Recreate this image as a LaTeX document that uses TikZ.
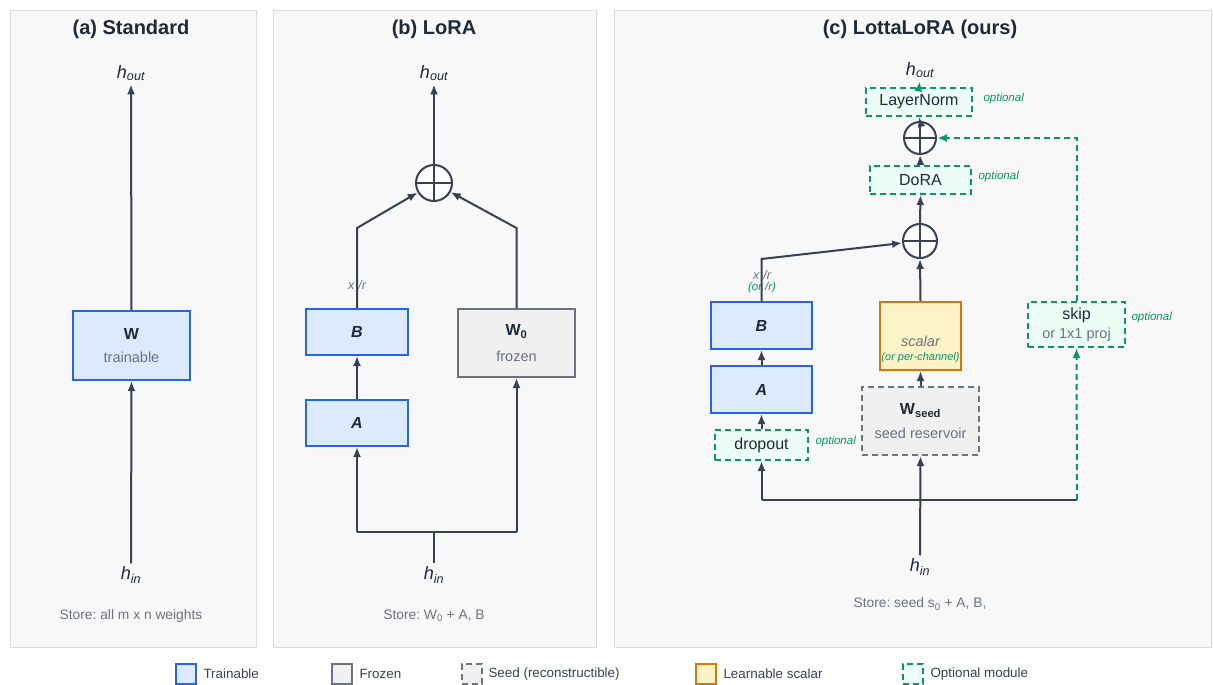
\documentclass[tikz,border=0pt]{standalone}
\usepackage{fontspec}
\setmainfont{Liberation Sans}
\frenchspacing
\usetikzlibrary{arrows.meta,positioning}

\definecolor{ink}{HTML}{374151}
\definecolor{txt}{HTML}{1F2937}
\definecolor{subgray}{HTML}{6B7280}
\definecolor{panelbg}{HTML}{F8F8F8}
\definecolor{panelline}{HTML}{DCDCDC}
\definecolor{trainline}{HTML}{2563EB}
\definecolor{trainfill}{HTML}{DBEAFE}
\definecolor{frozenline}{HTML}{6B7280}
\definecolor{frozenfill}{HTML}{F0F0F0}
\definecolor{optline}{HTML}{059669}
\definecolor{optfill}{HTML}{ECFDF5}
\definecolor{scalarline}{HTML}{D97706}
\definecolor{scalarfill}{HTML}{FEF3C7}

\newcommand{\hvar}[1]{h\textsubscript{#1}}
\newcommand{\subtxt}{\color{subgray}\fontsize{14.5}{17}\selectfont\mdseries\upshape}

\tikzset{
	panel/.style={draw=panelline, fill=panelbg, line width=0.8pt},
	title/.style={font=\fontsize{20}{24}\selectfont\bfseries, text=txt},
	box/.style={line width=2pt, inner sep=0pt, align=center, text=txt, font=\fontsize{16}{20}\selectfont},
	trainbox/.style={box, draw=trainline, fill=trainfill},
	frozenbox/.style={box, draw=frozenline, fill=frozenfill},
	seedbox/.style={frozenbox, dash pattern=on 6pt off 4pt},
	scalarbox/.style={box, draw=scalarline, fill=scalarfill},
	optbox/.style={box, draw=optline, fill=optfill, dash pattern=on 6pt off 4pt},
	plusnode/.style={circle, draw=ink, line width=2pt, fill=white, inner sep=0pt, minimum size=#1,
		path picture={\draw[ink, line width=2pt]
			(path picture bounding box.north) -- (path picture bounding box.south)
			(path picture bounding box.west) -- (path picture bounding box.east);}},
	flow/.style={draw=ink, line width=2pt},
	arr/.style={flow, -{Latex[length=10pt,width=8pt]}},
	optarr/.style={draw=optline, line width=2pt, dash pattern=on 6pt off 4pt, -{Latex[length=10pt,width=8pt]}},
	state/.style={font=\fontsize{18}{21}\selectfont\itshape, text=txt},
	store/.style={font=\fontsize{13.8}{16}\selectfont, text=subgray},
	scalelabel/.style={font=\fontsize{12.5}{14}\selectfont\itshape, text=subgray},
	optlabel/.style={font=\fontsize{11.5}{14}\selectfont\itshape, text=optline, anchor=west},
	legtext/.style={font=\fontsize{13.4}{16}\selectfont, text=ink, anchor=west},
	legkey/.style={minimum size=20pt, line width=2pt, inner sep=0pt},
}

\begin{document}
\begin{tikzpicture}[x=1pt, y=-1pt]
	\useasboundingbox (0,0) rectangle (1213,685);

	% panels
	\draw[panel] (10,10) rectangle (256,647);
	\draw[panel] (273,10) rectangle (596,647);
	\draw[panel] (614,10) rectangle (1211,647);

	% (a) standard layer
	\node[title] (titleA) at (131,29) {(a) Standard};
	\node[state] (houtA) at (131,73) {\hvar{out}};
	\node[state] (hinA) at (131,575) {\hvar{in}};
	\node[trainbox, minimum width=117, minimum height=69] (W) at (131.5,345.5)
		{\bfseries W\\[3pt]{\subtxt trainable}};
	\node[store] (storeA) at (131,616) {Store: all m x n weights};
	\draw[arr] (hinA.north) -- (W.south);
	\draw[arr] (W.north) -- (houtA.south);

	% (b) LoRA
	\node[title] (titleB) at (434,29) {(b) LoRA};
	\node[state] (houtB) at (434,73) {\hvar{out}};
	\node[state] (hinB) at (434,575) {\hvar{in}};
	\node[plusnode=36] (sumB) at (434,183) {};
	\node[trainbox, minimum width=102, minimum height=46, font=\fontsize{16}{20}\selectfont\bfseries\itshape] (B) at (357,332) {B};
	\node[trainbox, minimum width=102, minimum height=46, font=\fontsize{16}{20}\selectfont\bfseries\itshape] (A) at (357,423) {A};
	\node[frozenbox, minimum width=117, minimum height=68] (W0) at (516.5,343)
		{\bfseries W\textsubscript{0}\\[6pt]{\subtxt frozen}};
	\node[scalelabel] (scB) at (357,285) {x\hspace{4pt}/r};
	\node[store] (storeB) at (434,616) {Store: W\textsubscript{0} + A, B};
	\coordinate (busB) at (434,532);
	\draw[flow] (hinB.north) -- (busB);
	\draw[flow] (357,532) -- (516.5,532);
	\draw[arr] (357,532) -- (A.south);
	\draw[arr] (516.5,532) -- (W0.south);
	\draw[arr] (A.north) -- (B.south);
	\draw[arr] (B.north) -- (357,228) -- (sumB);
	\draw[arr] (W0.north) -- (516.5,228) -- (sumB);
	\draw[arr] (sumB.north) -- (houtB.south);

	% (c) LottaLoRA
	\node[title] (titleC) at (920,29) {(c) LottaLoRA (ours)};
	\node[state] (houtC) at (920,70) {\hvar{out}};
	\node[state] (hinC) at (920,567) {\hvar{in}};
	\node[optbox, minimum width=106, minimum height=28] (LN) at (919,102) {LayerNorm};
	\node[optlabel] (optLN) at (980,99) {optional};
	\node[plusnode=32] (sum2) at (920,138) {};
	\node[optbox, minimum width=101, minimum height=28] (DoRA) at (920.5,180) {DoRA};
	\node[optlabel] (optDoRA) at (975,177) {optional};
	\node[plusnode=34] (sum1) at (920,241) {};
	\node[trainbox, minimum width=101, minimum height=47, font=\fontsize{16}{20}\selectfont\bfseries\itshape] (Bc) at (761.5,325.5) {B};
	\node[trainbox, minimum width=101, minimum height=47, font=\fontsize{16}{20}\selectfont\bfseries\itshape] (Ac) at (761.5,389.5) {A};
	\node[optbox, minimum width=93, minimum height=30] (drop) at (761.5,445) {dropout};
	\node[optlabel] (optDrop) at (812,442) {optional};
	\node[scalarbox, minimum width=81, minimum height=68] (scalar) at (920.5,336) {};
	\node[align=center, inner sep=0pt, font=\fontsize{11}{14}\selectfont] (scalartxt) at (920.5,349)
		{{\subtxt\itshape scalar}\\[0pt]{\color{optline}\fontsize{11}{14}\selectfont\itshape (or per-channel)}};
	\node[seedbox, minimum width=117, minimum height=68] (Wseed) at (920.5,421)
		{\bfseries W\textsubscript{seed}\\[4pt]{\subtxt seed reservoir}};
	\node[optbox, minimum width=97, minimum height=45] (skip) at (1076.5,324.5)
		{skip\\[-1pt]{\subtxt or 1x1 proj}};
	\node[optlabel] (optSkip) at (1128,318) {optional};
	\node[scalelabel] (scC) at (762,275) {x\hspace{4pt}/r};
	\node[optlabel, anchor=center, font=\fontsize{11.5}{13}\selectfont\itshape] (scC2) at (762,288) {(or\hspace{3pt}/r)};
	\node[store] (storeC) at (920,604) {Store: seed s\textsubscript{0} + A, B,};
	\coordinate (busL) at (761.5,500);
	\coordinate (busR) at (1077,500);
	\draw[arr] (hinC.north) -- (Wseed.south);
	\draw[flow] (busL) -- (busR);
	\draw[arr] (busL) -- (drop.south);
	\draw[optarr] (busR) -- (skip.south);
	\draw[arr] (drop.north) -- (Ac.south);
	\draw[arr] (Ac.north) -- (Bc.south);
	\draw[arr] (Wseed.north) -- (scalar.south);
	\draw[arr] (Bc.north) -- (761.5,259) -- (sum1);
	\draw[arr] (scalar.north) -- (sum1.south);
	\draw[arr] (sum1.north) -- (DoRA.south);
	\draw[arr] (DoRA.north) -- (sum2.south);
	\draw[optarr] (skip.north) |- (sum2);
	\draw[arr] (sum2.north) -- (LN.south);
	\draw[optarr] (LN.north) -- (houtC.south);

	% legend
	\node[legkey, draw=trainline, fill=trainfill] (keyT) at (186,674) {};
	\node[legtext] (legT) at (200,674) {Trainable};
	\node[legkey, draw=frozenline, fill=frozenfill] (keyF) at (342,674) {};
	\node[legtext] (legF) at (356,674) {Frozen};
	\node[legkey, draw=frozenline, fill=frozenfill, dash pattern=on 6pt off 4pt] (keyS) at (472,674) {};
	\node[legtext] (legS) at (485,674) {Seed (reconstructible)};
	\node[legkey, draw=scalarline, fill=scalarfill] (keyL) at (706,674) {};
	\node[legtext] (legL) at (720,674) {Learnable scalar};
	\node[legkey, draw=optline, fill=optfill, dash pattern=on 6pt off 4pt] (keyO) at (913,674) {};
	\node[legtext] (legO) at (927,674) {Optional module};
\end{tikzpicture}
\end{document}
